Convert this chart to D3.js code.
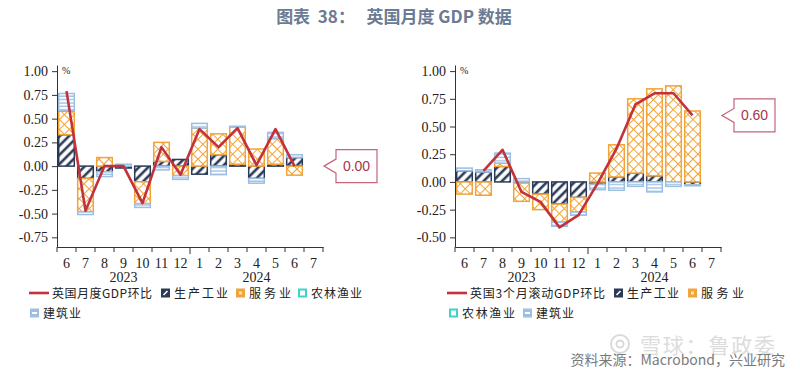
<!DOCTYPE html>
<html>
<head>
<meta charset="utf-8">
<script src="https://cdn.jsdelivr.net/npm/d3@7"></script>
<style>
  body { margin: 0; background: #fff; }
  svg { display: block; }
</style>
</head>
<body>
<svg id="chart" width="800" height="375"></svg>
<script>
// categories
const months = ['6', '7', '8', '9', '10', '11', '12', '1', '2', '3', '4', '5', '6', '7'];
const years = ['2023', '2024'];
const sectors = ['生产工业', '服务业', '农林渔业', '建筑业'];

// left: monthly m/m (%)
const gdpMoM  = [0.79, -0.47, 0.00, 0.00, -0.39, 0.20, -0.09, 0.39, 0.20, 0.40, 0.01, 0.39, 0.00];
const prodMoM = [0.33, -0.13, -0.06, -0.02, -0.165, 0.05, 0.07, -0.085, 0.12, 0.02, -0.13, 0.02, 0.09];
const servMoM = [0.25, -0.35, 0.09, 0.00, -0.23, 0.20, -0.10, 0.40, 0.22, 0.39, 0.18, 0.27, -0.095];
const agriMoM = [0.005, 0, 0, 0, 0, 0, 0, 0, 0, 0, 0, 0, 0];
const consMoM = [0.18, -0.03, -0.05, 0.02, -0.04, -0.04, -0.04, 0.05, -0.09, 0.01, -0.05, 0.065, 0.03];

// right: rolling 3 month (%)
const gdp3m  = [null, 0.10, 0.29, -0.09, -0.18, -0.41, -0.30, -0.015, 0.30, 0.70, 0.80, 0.80, 0.60];
const prod3m = [0.10, 0.09, 0.14, -0.01, -0.11, -0.20, -0.14, -0.02, 0.045, 0.08, 0.055, 0.00, -0.025];
const serv3m = [-0.11, -0.12, 0.03, -0.165, -0.14, -0.16, -0.13, 0.08, 0.29, 0.67, 0.785, 0.867, 0.64];
const agri3m = [0, 0, 0, 0, 0, 0, 0, 0, 0, 0, 0, 0, 0];
const cons3m = [0.025, 0.02, 0.09, 0.03, 0.00, -0.04, -0.03, -0.05, -0.075, -0.04, -0.09, -0.04, -0.01];

const leftTicks = [-0.75, -0.5, -0.25, 0, 0.25, 0.5, 0.75, 1.0];
const rightTicks = [-0.5, -0.25, 0, 0.25, 0.5, 0.75, 1.0];

const COLORS = { line: '#c2323c', prod: '#2b3a57', serv: '#f0a43a', agri: '#3ed3c9', cons: '#9cbfe3', axis: '#333' };
const sectorStyle = {
  '生产工业': { stroke: COLORS.prod, fill: 'url(#pProd)' },
  '服务业':   { stroke: COLORS.serv, fill: 'url(#pServ)' },
  '农林渔业': { stroke: COLORS.agri, fill: '#fff' },
  '建筑业':   { stroke: COLORS.cons, fill: 'url(#pCons)' }
};

const svg = d3.select('svg#chart');
const defs = svg.append('defs');

// hatch patterns
const pProd = defs.append('pattern').attr('id', 'pProd').attr('patternUnits', 'userSpaceOnUse')
    .attr('width', 6.5).attr('height', 6.5).attr('patternTransform', 'rotate(45)');
pProd.append('rect').attr('width', 6.5).attr('height', 6.5).attr('fill', '#fff');
pProd.append('line').attr('x1', 2).attr('y1', 0).attr('x2', 2).attr('y2', 6.5)
    .attr('stroke', COLORS.prod).attr('stroke-width', 2.6);

const pServ = defs.append('pattern').attr('id', 'pServ').attr('patternUnits', 'userSpaceOnUse')
    .attr('width', 7).attr('height', 7).attr('patternTransform', 'rotate(45)');
pServ.append('rect').attr('width', 7).attr('height', 7).attr('fill', '#fff');
pServ.append('line').attr('x1', 0.5).attr('y1', 0).attr('x2', 0.5).attr('y2', 7)
    .attr('stroke', COLORS.serv).attr('stroke-width', 1);
pServ.append('line').attr('x1', 0).attr('y1', 0.5).attr('x2', 7).attr('y2', 0.5)
    .attr('stroke', COLORS.serv).attr('stroke-width', 1);

const pCons = defs.append('pattern').attr('id', 'pCons').attr('patternUnits', 'userSpaceOnUse')
    .attr('width', 4).attr('height', 3.4);
pCons.append('rect').attr('width', 4).attr('height', 3.4).attr('fill', '#fff');
pCons.append('line').attr('x1', 0).attr('y1', 1).attr('x2', 4).attr('y2', 1)
    .attr('stroke', COLORS.cons).attr('stroke-width', 1.3);

// title
svg.append('text')
    .attr('x', 394).attr('y', 23)
    .attr('text-anchor', 'middle')
    .attr('fill', '#6b7b93')
    .attr('font-family', '"Noto Sans CJK SC", sans-serif')
    .attr('font-weight', 'bold')
    .attr('font-size', 17)
    .attr('xml:space', 'preserve')
    .text('图表  38：   英国月度 GDP 数据');

const TOP = 65, BOTTOM = 247;

function drawPanel(cfg) {
  const g = svg.append('g');
  const x = d3.scaleBand().domain(d3.range(months.length))
      .range([cfg.x0, cfg.x1]).paddingInner(0.1).paddingOuter(0.05);
  const y = d3.scaleLinear().domain(cfg.yDomain).range([BOTTOM, TOP]);
  const edge = i => x(i) - x.step() * x.paddingInner() / 2;

  // stacked bars
  const rows = cfg.gdp.map((_, i) => ({
    i: i,
    '生产工业': cfg.prod[i], '服务业': cfg.serv[i], '农林渔业': cfg.agri[i], '建筑业': cfg.cons[i]
  }));
  const stacked = d3.stack().keys(sectors).offset(d3.stackOffsetDiverging)(rows);
  stacked.forEach(s => {
    const st = sectorStyle[s.key];
    g.append('g').selectAll('rect')
      .data(s.filter(d => Math.abs(d[1] - d[0]) > 0.001))
      .join('rect')
        .attr('x', d => x(d.data.i) + 0.75)
        .attr('y', d => y(Math.max(d[0], d[1])))
        .attr('width', x.bandwidth() - 1.5)
        .attr('height', d => Math.abs(y(d[0]) - y(d[1])))
        .attr('fill', st.fill)
        .attr('stroke', st.stroke)
        .attr('stroke-width', 1.5);
  });

  // gdp line
  const line = d3.line()
      .defined(d => d != null)
      .x((d, i) => x(i) + x.bandwidth() / 2)
      .y(d => y(d));
  g.append('path')
      .datum(cfg.gdp)
      .attr('fill', 'none')
      .attr('stroke', COLORS.line)
      .attr('stroke-width', 2.6)
      .attr('stroke-linejoin', 'round')
      .attr('d', line);

  // y axis
  const yAxis = g.append('g')
      .attr('transform', `translate(${cfg.x0},0)`)
      .call(d3.axisLeft(y).tickValues(cfg.yTicks).tickFormat(d => d.toFixed(2)).tickSize(5).tickSizeOuter(0));
  yAxis.selectAll('text')
      .attr('font-family', '"Liberation Serif", serif').attr('font-size', 14).attr('fill', '#222').attr('dx', '-1');
  yAxis.selectAll('line, path').attr('stroke', COLORS.axis);

  g.append('text')
      .attr('x', cfg.x0 + 5).attr('y', TOP + 9)
      .attr('font-family', '"Liberation Serif", serif').attr('font-size', 10).attr('fill', '#222')
      .text('%');

  // x axis
  const xAxis = g.append('g')
      .attr('transform', `translate(0,${BOTTOM})`)
      .call(d3.axisBottom(x).tickFormat(i => months[i]).tickSize(0).tickSizeOuter(0).tickPadding(11));
  xAxis.selectAll('text')
      .attr('font-family', '"Liberation Serif", serif').attr('font-size', 14).attr('fill', '#222');
  xAxis.select('.domain').attr('stroke', COLORS.axis);
  xAxis.selectAll('.bound')
    .data(d3.range(months.length + 1))
    .join('line')
      .attr('class', 'bound')
      .attr('x1', i => i < months.length ? edge(i) : cfg.x1)
      .attr('x2', i => i < months.length ? edge(i) : cfg.x1)
      .attr('y1', 0)
      .attr('y2', i => i === 7 ? 7 : 5)
      .attr('stroke', COLORS.axis);

  // year labels
  years.forEach((yr, k) => {
    const a = edge(k * 7), b = k === 0 ? edge(7) : cfg.x1;
    g.append('text')
        .attr('x', (a + b) / 2).attr('y', BOTTOM + 35)
        .attr('text-anchor', 'middle')
        .attr('font-family', '"Liberation Serif", serif').attr('font-size', 14).attr('fill', '#222')
        .text(yr);
  });

  // callout for the latest value
  const lastIdx = d3.max(cfg.gdp.map((d, i) => d != null ? i : -1));
  const lastVal = cfg.gdp[lastIdx];
  const tipX = cfg.x1 + 1, tipY = y(lastVal);
  const bl = tipX + 12, br = bl + 41, bt = tipY - 16.5, bb = tipY + 16.5;
  g.append('path')
      .attr('d', `M${bl},${bt}H${br}V${bb}H${bl}V${tipY + 7}L${tipX},${tipY}L${bl},${tipY - 7}Z`)
      .attr('fill', '#fff')
      .attr('stroke', '#c4647a')
      .attr('stroke-width', 1.2);
  g.append('text')
      .attr('x', (bl + br) / 2).attr('y', tipY + 5)
      .attr('text-anchor', 'middle')
      .attr('font-family', '"Liberation Sans", sans-serif').attr('font-size', 14)
      .attr('fill', '#a8344d')
      .text(lastVal.toFixed(2));

  // legend
  const lg = g.append('g')
      .attr('font-family', '"Noto Sans CJK SC", sans-serif')
      .attr('font-size', 12)
      .attr('fill', '#222');
  cfg.legend.forEach(item => {
    let tx;
    if (item.type === 'line') {
      lg.append('line')
          .attr('x1', item.x).attr('x2', item.x + 20)
          .attr('y1', item.y).attr('y2', item.y)
          .attr('stroke', COLORS.line).attr('stroke-width', 2.6);
      tx = item.x + 23;
    } else {
      const st = sectorStyle[item.label];
      const s = lg.append('g').attr('transform', `translate(${item.x},${item.y - 4.5})`);
      if (item.label === '农林渔业') {
        s.append('rect').attr('x', 1).attr('y', 1).attr('width', 7).attr('height', 7)
            .attr('fill', '#fff').attr('stroke', st.stroke).attr('stroke-width', 2);
      } else {
        s.append('rect').attr('width', 9).attr('height', 9).attr('fill', st.stroke);
        if (item.label === '生产工业') {
          s.append('line').attr('x1', 2.5).attr('y1', 6.5).attr('x2', 6.5).attr('y2', 2.5)
              .attr('stroke', '#fff').attr('stroke-width', 1.6);
        } else if (item.label === '服务业') {
          s.append('rect').attr('x', 3).attr('y', 3).attr('width', 3).attr('height', 3).attr('fill', '#fde3b8');
        } else {
          s.append('rect').attr('x', 2).attr('y', 3.5).attr('width', 5).attr('height', 2).attr('fill', '#fff');
        }
      }
      tx = item.x + 13;
    }
    lg.append('text')
        .attr('x', tx).attr('y', item.y + 4.5)
        .attr('textLength', item.w)
        .attr('lengthAdjust', 'spacing')
        .text(item.label);
  });
}

drawPanel({
  x0: 57, x1: 323,
  yDomain: [-0.852, 1.065], yTicks: leftTicks,
  gdp: gdpMoM, prod: prodMoM, serv: servMoM, agri: agriMoM, cons: consMoM,
  legend: [
    { type: 'line', x: 29, y: 293, w: 100, label: '英国月度GDP环比' },
    { type: 'box', x: 161, y: 293, w: 54, label: '生产工业' },
    { type: 'box', x: 236, y: 293, w: 42, label: '服务业' },
    { type: 'box', x: 298, y: 293, w: 51, label: '农林渔业' },
    { type: 'box', x: 30, y: 313, w: 38, label: '建筑业' }
  ]
});

drawPanel({
  x0: 455, x1: 721,
  yDomain: [-0.587, 1.055], yTicks: rightTicks,
  gdp: gdp3m, prod: prod3m, serv: serv3m, agri: agri3m, cons: cons3m,
  legend: [
    { type: 'line', x: 447, y: 293, w: 135, label: '英国3个月滚动GDP环比' },
    { type: 'box', x: 614, y: 293, w: 52, label: '生产工业' },
    { type: 'box', x: 688, y: 293, w: 43, label: '服务业' },
    { type: 'box', x: 449, y: 313, w: 53, label: '农林渔业' },
    { type: 'box', x: 523, y: 313, w: 38, label: '建筑业' }
  ]
});

// watermark + source
const wm = svg.append('g').attr('fill', 'none').attr('stroke', '#dadada').attr('stroke-width', 2);
wm.append('circle').attr('cx', 620).attr('cy', 344).attr('r', 9);
wm.append('circle').attr('cx', 620).attr('cy', 344).attr('r', 3.5);
svg.append('text')
    .attr('x', 640).attr('y', 353)
    .attr('fill', '#dcdcdc')
    .attr('font-family', '"Noto Sans CJK SC", sans-serif')
    .attr('font-size', 21)
    .attr('textLength', 135)
    .attr('lengthAdjust', 'spacing')
    .text('雪球：鲁政委');
svg.append('text')
    .attr('x', 785).attr('y', 365)
    .attr('text-anchor', 'end')
    .attr('fill', '#7a7a7a')
    .attr('font-family', '"Noto Sans CJK SC", sans-serif')
    .attr('font-size', 14)
    .text('资料来源：Macrobond，兴业研究');
</script>
</body>
</html>
